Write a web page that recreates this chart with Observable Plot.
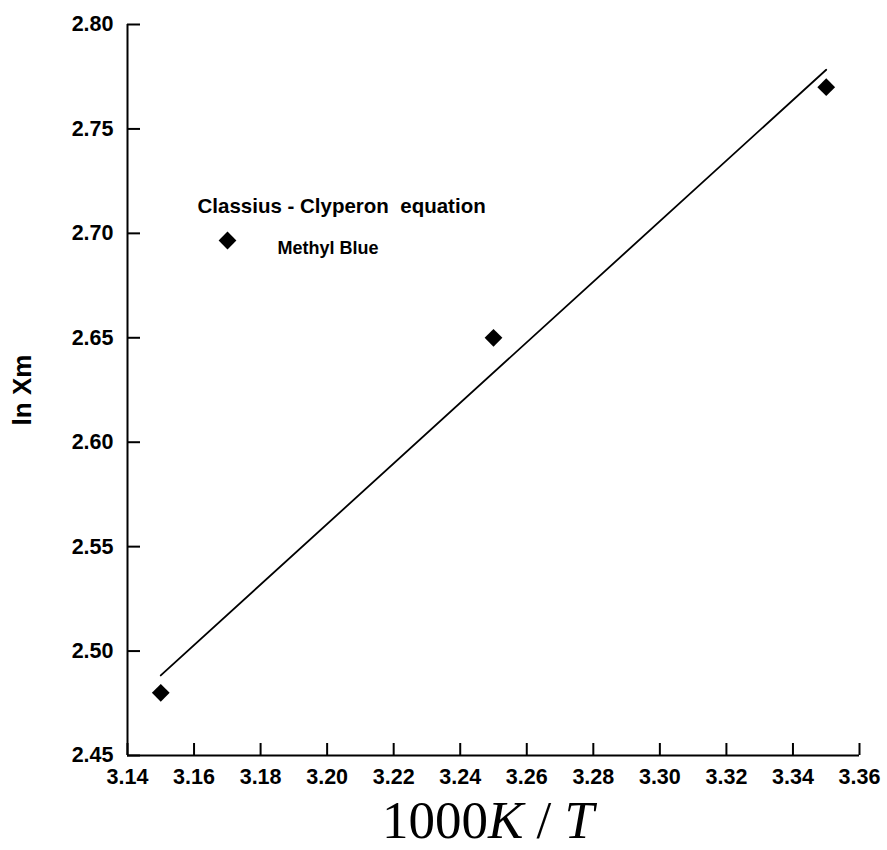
<!DOCTYPE html>
<html>
<head>
<meta charset="utf-8">
<script src="https://cdn.jsdelivr.net/npm/d3@7"></script>
<script src="https://cdn.jsdelivr.net/npm/@observablehq/plot@0.6"></script>
<style>
  html, body { margin: 0; padding: 0; background: #fff; }
  #wrap { position: relative; width: 887px; height: 850px; overflow: hidden; }
  #xtitle {
    position: absolute; left: 0; top: 790px; width: 976px;
    text-align: center; font-family: "Liberation Serif", "Times New Roman", serif;
    font-size: 53px; line-height: normal; color: #000;
  }
</style>
</head>
<body>
<div id="wrap">
  <div id="chart"></div>
  <div id="xtitle">1000<i>K</i> / <i>T</i></div>
</div>
<script>
// Clausius–Clapeyron data: 1000/T against ln Xm for methyl blue
const invT = [3.15, 3.25, 3.35];
const lnXm = [2.48, 2.65, 2.77];
const seriesName = "Methyl Blue";
const legendTitle = "Classius - Clyperon\u00a0 equation";

const xTicks = [3.14, 3.16, 3.18, 3.20, 3.22, 3.24, 3.26, 3.28, 3.30, 3.32, 3.34, 3.36];
const yTicks = [2.45, 2.50, 2.55, 2.60, 2.65, 2.70, 2.75, 2.80];
const xDomain = [3.14, 3.36];
const yDomain = [2.45, 2.80];

const points = invT.map((x, i) => ({x, y: lnXm[i]}));
const font = "'Liberation Sans', Arial, sans-serif";
const fmt = d3.format(".2f");

const W = 887, H = 790, ML = 127, MR = 28, MT = 24, MB = 35;
const plotW = W - ML - MR, plotH = H - MT - MB;

const chart = Plot.plot({
  width: W,
  height: H,
  marginLeft: ML,
  marginRight: MR,
  marginTop: MT,
  marginBottom: MB,
  style: {fontFamily: font, fontWeight: "bold", color: "#000", background: "#fff"},
  x: {domain: xDomain, axis: null},
  y: {domain: yDomain, axis: null},
  marks: [
    // inward tick marks
    Plot.tickY(yTicks, {y: d => d, insetRight: plotW - 13, stroke: "#000", strokeWidth: 2}),
    Plot.tickX(xTicks, {x: d => d, insetTop: plotH - 12, stroke: "#000", strokeWidth: 2}),
    // tick labels
    Plot.text(yTicks, {y: d => d, text: d => fmt(d), frameAnchor: "left", dx: -14, textAnchor: "end", fontSize: 21.5, fontWeight: "bold", fill: "#000"}),
    Plot.text(xTicks, {x: d => d, text: d => fmt(d), frameAnchor: "bottom", dy: 13, lineAnchor: "top", fontSize: 21.5, fontWeight: "bold", fill: "#000"}),
    // axis lines
    Plot.ruleX([xDomain[0]], {strokeWidth: 2}),
    Plot.ruleY([yDomain[0]], {strokeWidth: 2}),
    // y-axis title
    Plot.text(["ln Xm"], {frameAnchor: "left", dx: -105, textAnchor: "middle", rotate: -90, fontSize: 26, fontWeight: "bold", fill: "#000"}),
    // least-squares fit
    Plot.linearRegressionY(points, {x: "x", y: "y", ci: 0, stroke: "#000", strokeWidth: 1.8}),
    // data points
    Plot.dot(points, {x: "x", y: "y", symbol: "diamond2", r: 8, fill: "#000", stroke: "none"}),
    // legend
    Plot.text([legendTitle], {frameAnchor: "top-left", dx: 70, dy: 174, textAnchor: "start", fontSize: 20.5, fontWeight: "bold", fill: "#000"}),
    Plot.dot([seriesName], {frameAnchor: "top-left", dx: 100, dy: 216, symbol: "diamond2", r: 8, fill: "#000", stroke: "none"}),
    Plot.text([seriesName], {frameAnchor: "top-left", dx: 150, dy: 217, textAnchor: "start", fontSize: 18, fontWeight: "bold", fill: "#000"})
  ]
});
document.getElementById("chart").appendChild(chart);
</script>
</body>
</html>
